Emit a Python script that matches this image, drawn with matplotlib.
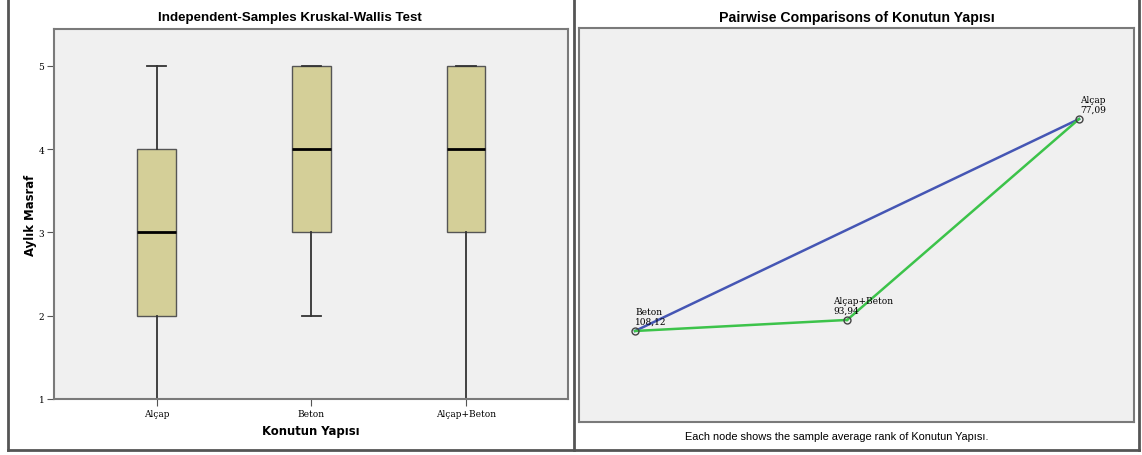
import matplotlib
matplotlib.use("Agg")
import matplotlib.pyplot as plt
from matplotlib.lines import Line2D

# left panel: box plot summary per group
groups = ["Alçap", "Beton", "Alçap+Beton"]
whisk_lo = [1, 2, 1]
q1 = [2, 3, 3]
med = [3, 4, 4]
q3 = [4, 5, 5]
whisk_hi = [5, 5, 5]
y_ticks = [1, 2, 3, 4, 5]

# right panel: pairwise comparison nodes
node_names = ["Beton", "Alçap+Beton", "Alçap"]
node_ranks = ["108,12", "93,94", "77,09"]
node_x = [0.101, 0.483, 0.901]
node_y = [0.231, 0.259, 0.769]
edges = [(0, 2, "#4556b4"), (0, 1, "#3cc34a"), (1, 2, "#3cc34a")]

box_col = "#d4cf98"
face = "#f0f0f0"
spine_col = "#7a7a7a"
W, H = 1142, 456

fig = plt.figure(figsize=(W / 100, H / 100), dpi=100)
fig.patch.set_facecolor("white")

def px_axes(x0, y0, x1, y1):
    return fig.add_axes([x0 / W, 1 - y1 / H, (x1 - x0) / W, (y1 - y0) / H])

# ---- box plot ----
ax = px_axes(54, 30, 568, 400)
ax.set_facecolor(face)
stats = []
for i, g in enumerate(groups):
    stats.append(dict(label=g, whislo=whisk_lo[i], q1=q1[i], med=med[i],
                      q3=q3[i], whishi=whisk_hi[i], fliers=[]))
ax.bxp(stats, positions=[1, 2, 3], widths=0.25, patch_artist=True,
       showfliers=False,
       boxprops=dict(facecolor=box_col, edgecolor="#555555", linewidth=1.0),
       medianprops=dict(color="black", linewidth=2.0),
       whiskerprops=dict(color="#333333", linewidth=1.3),
       capprops=dict(color="#333333", linewidth=1.3),
       capwidths=0.125)
ax.set_xlim(0.335, 3.66)
ax.set_ylim(1, 5.44)
ax.set_yticks(y_ticks)
ax.set_yticklabels([str(t) for t in y_ticks])
for t in ax.get_xticklabels() + ax.get_yticklabels():
    t.set_family("DejaVu Serif")
    t.set_fontsize(6.5)
ax.tick_params(length=5, width=0.8, color="#555555", pad=2)
for s in ax.spines.values():
    s.set_color(spine_col)
    s.set_linewidth(1.5)
ax.set_xlabel("Konutun Yapısı", family="DejaVu Sans", fontweight="bold",
              fontsize=8.4)
ax.xaxis.set_label_coords(0.5, -25 / 370)
ax.set_ylabel("Aylık Masraf", family="DejaVu Sans", fontweight="bold",
              fontsize=8.4)
ax.yaxis.set_label_coords(-17 / 514, 0.5)
fig.text(290 / W, 1 - 18 / H, "Independent-Samples Kruskal-Wallis Test",
         ha="center", va="center", family="Liberation Sans",
         fontweight="bold", fontsize=9.6)

# ---- pairwise graph ----
ax2 = px_axes(579, 29, 1134, 423)
ax2.set_facecolor(face)
ax2.set_xlim(0, 1)
ax2.set_ylim(0, 1)
ax2.set_xticks([])
ax2.set_yticks([])
for s in ax2.spines.values():
    s.set_color(spine_col)
    s.set_linewidth(1.5)
for a, b, c in edges:
    ax2.plot([node_x[a], node_x[b]], [node_y[a], node_y[b]], color=c,
             linewidth=1.8, zorder=2)
ax2.plot(node_x, node_y, "o", markersize=5, markerfacecolor="none",
         markeredgecolor="#444444", markeredgewidth=1.0, zorder=3)
label_dx = [0.0, -0.025, 0.002]
for i, n in enumerate(node_names):
    ax2.text(node_x[i] + label_dx[i], node_y[i] + 0.013,
             n + "\n" + node_ranks[i], ha="left", va="bottom",
             family="DejaVu Serif", fontsize=6.5, linespacing=1.15)
fig.text(837 / W, 1 - 437 / H,
         "Each node shows the sample average rank of Konutun Yapısı.",
         ha="center", va="center", family="Liberation Sans", fontsize=7.9)
fig.text(857 / W, 1 - 18 / H, "Pairwise Comparisons of Konutun Yapısı",
         ha="center", va="center", family="Liberation Sans",
         fontweight="bold", fontsize=10.2)

# ---- panel frames ----
fc = "#555555"
for xs, ys in [([8, 8], [0, 451]), ([574, 574], [0, 451]),
               ([1139, 1139], [0, 451]), ([8, 1139], [451, 451])]:
    fig.add_artist(Line2D([x / W for x in xs], [1 - y / H for y in ys],
                          color=fc, linewidth=2))

fig.savefig("out.png", dpi=100)
